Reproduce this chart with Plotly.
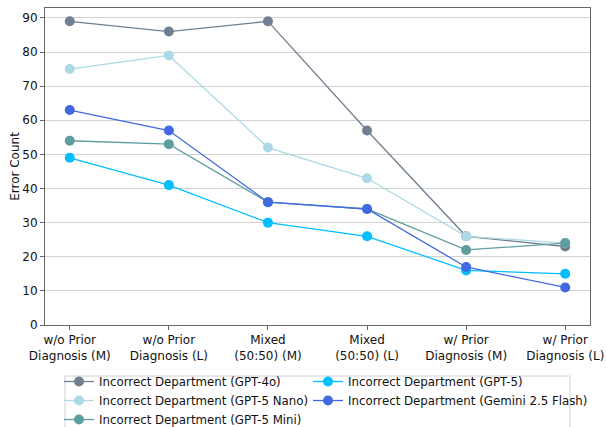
import plotly.graph_objects as go

categories = ["w/o Prior<br>Diagnosis (M)", "w/o Prior<br>Diagnosis (L)", "Mixed<br>(50:50) (M)",
              "Mixed<br>(50:50) (L)", "w/ Prior<br>Diagnosis (M)", "w/ Prior<br>Diagnosis (L)"]
gpt4o = [89, 86, 89, 57, 26, 23]
gpt5_nano = [75, 79, 52, 43, 26, 24]
gpt5_mini = [54, 53, 36, 34, 22, 24]
gpt5 = [49, 41, 30, 26, 16, 15]
gemini = [63, 57, 36, 34, 17, 11]

series = [
    ("Incorrect Department (GPT-4o)", gpt4o, "#708090", "legend"),
    ("Incorrect Department (GPT-5 Nano)", gpt5_nano, "#ADD8E6", "legend"),
    ("Incorrect Department (GPT-5 Mini)", gpt5_mini, "#5F9EA0", "legend"),
    ("Incorrect Department (GPT-5)", gpt5, "#00BFFF", "legend2"),
    ("Incorrect Department (Gemini 2.5 Flash)", gemini, "#4169E1", "legend2"),
]

xs = list(range(len(categories)))
fig = go.Figure()
for name, vals, color, lg in series:
    fig.add_trace(go.Scatter(
        x=xs, y=vals, mode="lines+markers", name=name,
        line=dict(color=color, width=1.3),
        marker=dict(color=color, size=10),
        legend=lg,
    ))

W, H = 606, 427
ML, MR, MT, MB = 45, 16, 8, 102
PW = W - ML - MR
PH = H - MT - MB


def px_x(px):
    return (px - ML) / PW


def px_y(py):
    return (H - MB - py) / PH


legend_top = 367
common_legend = dict(
    orientation="v", xref="paper", xanchor="left",
    yref="container", y=1 - legend_top / H, yanchor="top",
    maxheight=1000,
    font=dict(size=11.8, family="DejaVu Sans", color="#111"),
    borderwidth=0, bgcolor="rgba(0,0,0,0)",
    traceorder="normal", tracegroupgap=0,
)

fig.update_layout(
    width=W, height=H,
    margin=dict(l=ML, r=MR, t=MT, b=MB, autoexpand=False),
    paper_bgcolor="white", plot_bgcolor="white",
    font=dict(family="DejaVu Sans", size=12, color="#111"),
    showlegend=True,
    legend=dict(common_legend, x=px_x(59)),
    legend2=dict(common_legend, x=px_x(308)),
    shapes=[dict(
        type="rect", xref="paper", yref="paper",
        x0=px_x(65), x1=px_x(570), y0=px_y(376), y1=px_y(445),
        line=dict(color="#d0d0d0", width=1), fillcolor="rgba(0,0,0,0)",
        layer="below",
    )],
    xaxis=dict(
        tickmode="array", tickvals=xs, ticktext=categories,
        range=[-0.25, 5.25], showgrid=False, zeroline=False, automargin=False,
        showline=True, linecolor="#666", linewidth=1, mirror=True,
        ticks="outside", ticklen=4, tickcolor="#666",
        tickfont=dict(size=12),
    ),
    yaxis=dict(
        title=dict(text="Error Count", font=dict(size=12), standoff=0),
        range=[0, 92.9], tickmode="array", tickvals=list(range(0, 91, 10)),
        showgrid=True, gridcolor="#d3d3d3", gridwidth=1, zeroline=False, automargin=False,
        showline=True, linecolor="#666", linewidth=1, mirror=True,
        ticks="outside", ticklen=4, tickcolor="#666",
        tickfont=dict(size=12),
    ),
)

fig.write_html(
    "out.html",
    config={"displayModeBar": False},
    post_script="document.body.style.margin='0';document.body.style.overflow='hidden';",
)
